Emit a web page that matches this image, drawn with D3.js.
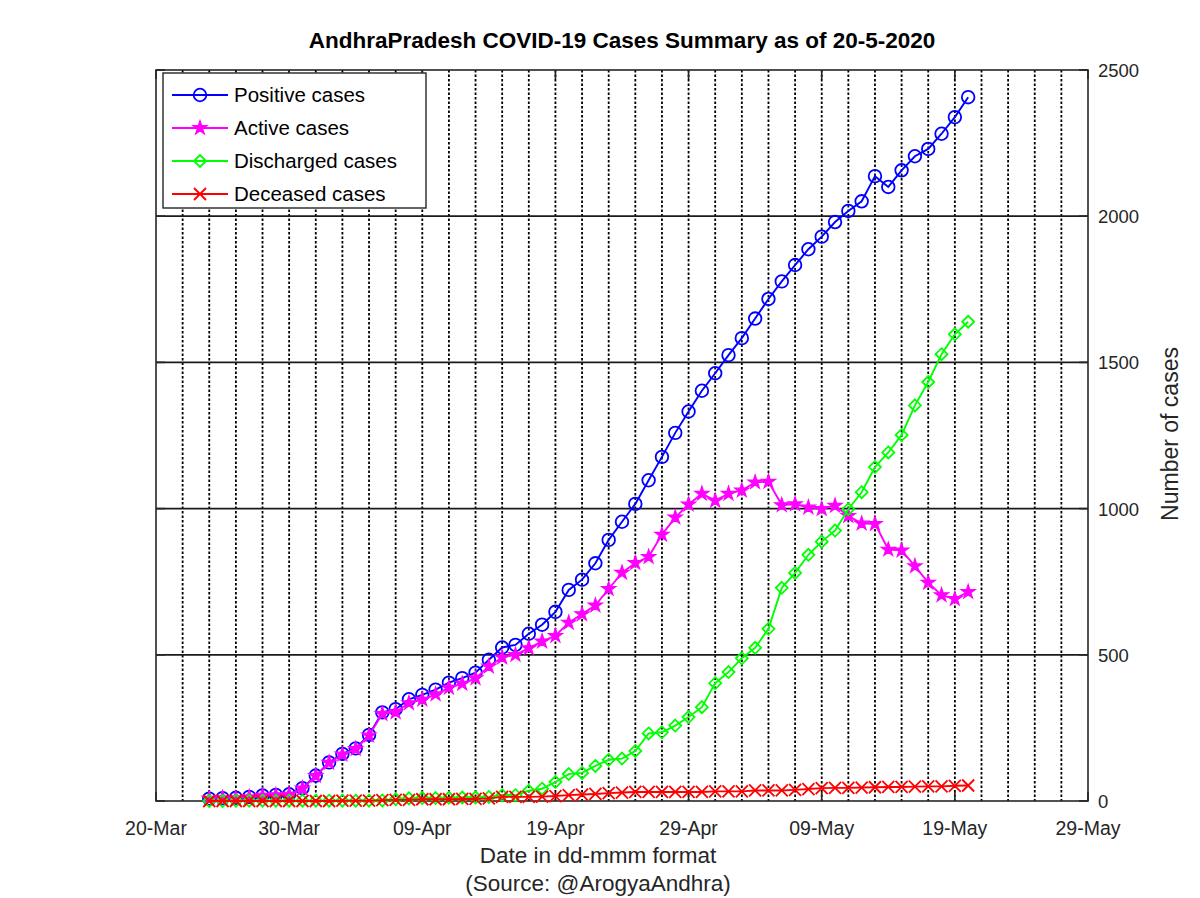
<!DOCTYPE html>
<html><head><meta charset="utf-8">
<script src="https://cdn.jsdelivr.net/npm/d3@7"></script>
<style>
html,body{margin:0;padding:0;background:#fff;}
svg{display:block;font-family:"Liberation Sans",Arial,sans-serif;}
</style></head>
<body>
<svg id="chart" width="1200" height="898"></svg>
<script>
// ---------- data ----------
const dates = [
"2020-03-24","2020-03-25","2020-03-26","2020-03-27","2020-03-28","2020-03-29","2020-03-30","2020-03-31",
"2020-04-01","2020-04-02","2020-04-03","2020-04-04","2020-04-05","2020-04-06","2020-04-07","2020-04-08","2020-04-09","2020-04-10",
"2020-04-11","2020-04-12","2020-04-13","2020-04-14","2020-04-15","2020-04-16","2020-04-17","2020-04-18","2020-04-19","2020-04-20",
"2020-04-21","2020-04-22","2020-04-23","2020-04-24","2020-04-25","2020-04-26","2020-04-27","2020-04-28","2020-04-29","2020-04-30",
"2020-05-01","2020-05-02","2020-05-03","2020-05-04","2020-05-05","2020-05-06","2020-05-07","2020-05-08","2020-05-09","2020-05-10",
"2020-05-11","2020-05-12","2020-05-13","2020-05-14","2020-05-15","2020-05-16","2020-05-17","2020-05-18","2020-05-19","2020-05-20"];
const positive = [8,10,11,14,19,21,23,44,
87,132,161,180,226,303,314,348,363,381,
405,420,439,483,525,534,572,603,647,722,
757,813,893,955,1016,1097,1177,1259,1332,1403,
1463,1525,1583,1650,1717,1777,1833,1887,1930,1980,
2018,2051,2137,2100,2157,2205,2230,2282,2339,2407];
const active = [8,10,10,13,18,20,22,43,
86,131,159,178,224,298,304,335,347,365,
388,401,420,460,491,500,523,546,565,610,
639,669,725,781,814,835,911,970,1014,1051,
1027,1051,1062,1090,1092,1012,1015,1004,999,1010,
975,949,948,860,857,803,747,704,691,715];
const discharged = [0,0,1,1,1,1,1,1,
1,1,1,1,1,2,6,9,10,10,
11,12,12,14,20,20,35,42,65,92,
96,120,141,145,171,231,235,258,287,321,
403,441,488,524,589,729,780,842,887,925,
998,1056,1142,1192,1252,1353,1433,1528,1596,1639];
const deceased = [0,0,0,0,0,0,0,0,
0,0,1,1,1,3,4,4,6,6,
6,7,7,9,14,14,14,15,17,20,
22,24,27,29,31,31,31,31,31,31,
33,33,33,36,36,36,38,41,44,45,
45,46,47,48,48,49,50,50,52,53];
const seriesNames = ["Positive cases","Active cases","Discharged cases","Deceased cases"];
const xTickLabels = ["20-Mar","30-Mar","09-Apr","19-Apr","29-Apr","09-May","19-May","29-May"];
const yTickValues = [0,500,1000,1500,2000,2500];
const titleText = "AndhraPradesh COVID-19 Cases Summary as of 20-5-2020";
const xLabelText = "Date in dd-mmm format";
const sourceText = "(Source: @ArogyaAndhra)";
const yLabelText = "Number of cases";

// ---------- layout ----------
const L = 156, R = 1088, T = 70, B = 801;
const svg = d3.select("#chart");
const parse = d3.utcParse("%Y-%m-%d");
const xDates = dates.map(parse);
const x0 = parse("2020-03-20"), x1 = parse("2020-05-29");
const x = d3.scaleUtc().domain([x0, x1]).range([L, R]);
const y = d3.scaleLinear().domain([0, 2500]).range([B, T]);
const DAY = 86400000;

// dotted vertical gridlines every 2 days
const gridDays = d3.range(2, 70, 2).map(k => new Date(x0.getTime() + k * DAY));
svg.append("g").selectAll("line").data(gridDays).join("line")
  .attr("x1", d => x(d)).attr("x2", d => x(d)).attr("y1", T).attr("y2", B)
  .attr("stroke", "#000").attr("stroke-width", 1.8).attr("stroke-dasharray", "2.5,2");

// horizontal solid gridlines
svg.append("g").selectAll("line").data(yTickValues.filter(v => v > 0 && v < 2500)).join("line")
  .attr("x1", L).attr("x2", R).attr("y1", d => y(d)).attr("y2", d => y(d))
  .attr("stroke", "#1a1a1a").attr("stroke-width", 1.8);

// box
svg.append("rect").attr("x", L).attr("y", T).attr("width", R - L).attr("height", B - T)
  .attr("fill", "none").attr("stroke", "#262626").attr("stroke-width", 1.6);

// major ticks (inward)
const xTicks = d3.range(0, 71, 10).map(k => new Date(x0.getTime() + k * DAY));
const tickG = svg.append("g").attr("stroke", "#262626").attr("stroke-width", 1.6);
xTicks.forEach(d => {
  tickG.append("line").attr("x1", x(d)).attr("x2", x(d)).attr("y1", B).attr("y2", B - 9);
  tickG.append("line").attr("x1", x(d)).attr("x2", x(d)).attr("y1", T).attr("y2", T + 9);
});
yTickValues.forEach(v => {
  tickG.append("line").attr("x1", R).attr("x2", R - 9).attr("y1", y(v)).attr("y2", y(v));
  tickG.append("line").attr("x1", L).attr("x2", L + 9).attr("y1", y(v)).attr("y2", y(v));
});

// x tick labels
svg.append("g").selectAll("text").data(xTicks).join("text")
  .attr("x", d => x(d)).attr("y", B + 34).attr("text-anchor", "middle")
  .attr("font-size", 19.5).attr("fill", "#262626")
  .text((d, i) => xTickLabels[i]);

// y tick labels (right)
svg.append("g").selectAll("text").data(yTickValues).join("text")
  .attr("x", R + 10).attr("y", d => y(d) + 7).attr("text-anchor", "start")
  .attr("font-size", 18.5).attr("fill", "#262626")
  .text(d => d);

// axis labels
svg.append("text").attr("x", 598).attr("y", 863).attr("text-anchor", "middle")
  .attr("font-size", 22.5).attr("fill", "#262626").text(xLabelText);
svg.append("text").attr("x", 598).attr("y", 891).attr("text-anchor", "middle")
  .attr("font-size", 22.5).attr("fill", "#262626").text(sourceText);
svg.append("text").attr("transform", "translate(1178,434) rotate(-90)")
  .attr("text-anchor", "middle").attr("font-size", 23).attr("fill", "#262626").text(yLabelText);

// title
svg.append("text").attr("x", 622).attr("y", 48).attr("text-anchor", "middle")
  .attr("font-size", 22.5).attr("font-weight", "bold").attr("fill", "#000").text(titleText);

// ---------- series ----------
const colors = ["#0000ff", "#ff00ff", "#00ff00", "#ff0000"];
const allSeries = [positive, active, discharged, deceased];
const line = d3.line().x(d => x(d[0])).y(d => y(d[1]));

function drawMarker(g, type, color) {
  if (type === 0) {
    g.append("circle").attr("r", 6.3).attr("fill", "none").attr("stroke", color).attr("stroke-width", 1.8);
  } else if (type === 1) {
    g.append("path").attr("d", d3.symbol(d3.symbolStar, 62)()).attr("fill", color).attr("stroke", color).attr("stroke-width", 1.2);
  } else if (type === 2) {
    g.append("path").attr("d", "M0,-6L6,0L0,6L-6,0Z").attr("fill", "none").attr("stroke", color).attr("stroke-width", 1.8);
  } else {
    g.append("path").attr("d", "M-6,-6L6,6M-6,6L6,-6").attr("fill", "none").attr("stroke", color).attr("stroke-width", 1.8);
  }
}

allSeries.forEach((vals, si) => {
  const pts = xDates.map((d, i) => [d, vals[i]]);
  const g = svg.append("g");
  g.append("path").datum(pts).attr("d", line).attr("fill", "none")
    .attr("stroke", colors[si]).attr("stroke-width", 1.9);
  pts.forEach(p => {
    const mg = g.append("g").attr("transform", `translate(${x(p[0])},${y(p[1])})`);
    drawMarker(mg, si, colors[si]);
  });
});

// ---------- legend ----------
const lg = svg.append("g");
lg.append("rect").attr("x", 163).attr("y", 73).attr("width", 263).attr("height", 135)
  .attr("fill", "#fff").attr("stroke", "#262626").attr("stroke-width", 1.4);
seriesNames.forEach((name, i) => {
  const cy = 95 + i * 33;
  lg.append("line").attr("x1", 172).attr("x2", 228).attr("y1", cy).attr("y2", cy)
    .attr("stroke", colors[i]).attr("stroke-width", 1.9);
  const mg = lg.append("g").attr("transform", `translate(200,${cy})`);
  drawMarker(mg, i, colors[i]);
  lg.append("text").attr("x", 234).attr("y", cy + 7).attr("font-size", 20.5).attr("fill", "#000").text(name);
});
</script>
</body></html>
